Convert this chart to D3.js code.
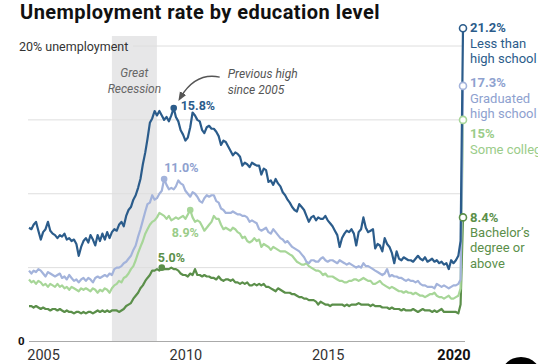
<!DOCTYPE html>
<html>
<head>
<meta charset="utf-8">
<script src="https://cdn.jsdelivr.net/npm/d3@7"></script>
<style>
  body { margin: 0; background: #fff; }
  svg { display: block; font-family: Roboto, 'Noto Sans', sans-serif; }
</style>
</head>
<body>
<svg id="chart" width="538" height="364"></svg>
<script>
'use strict';
// monthly data, Jan 2005 .. Apr 2020
const START = new Date(2005, 0, 1);
const YEAR_LABELS = ['2005', '2010', '2015', '2020'];
const Y_TICKS = [0, 5, 10, 15, 20];
const RECESSION = [new Date(2007, 11, 1), new Date(2009, 5, 30)];

const lessThanHS = [
  7.7, 7.6, 7.9, 8.1, 7.5, 6.9, 7.4, 7.6, 8.1, 7.5, 7.3, 7.2,
  7.0, 7.2, 7.1, 7.3, 6.9, 7.0, 6.8, 6.9, 6.6, 5.8, 6.4, 6.8,
  7.0, 6.7, 7.2, 6.9, 6.5, 7.2, 6.8, 7.3, 6.9, 7.4, 7.0, 7.4,
  7.6, 7.5, 7.9, 8.1, 7.8, 8.5, 8.9, 9.1, 9.6, 9.9, 10.4, 11.0,
  12.0, 12.8, 13.7, 14.8, 15.1, 15.6, 15.3, 15.6, 15.3, 15.0, 15.2, 14.9,
  15.3, 15.8, 15.2, 14.9, 14.3, 14.0, 13.6, 13.8, 14.5, 15.5, 15.3, 15.0,
  14.9, 14.3, 14.1, 14.5, 14.6, 14.4, 14.4, 14.2, 13.9, 13.3, 13.6, 13.5,
  13.2, 12.9, 12.6, 12.8, 12.7, 12.5, 11.9, 12.1, 12.0, 11.8, 12.1, 12.0,
  11.9, 11.9, 11.3, 11.7, 11.6, 10.8, 10.9, 10.6, 11.0, 10.7, 10.5, 10.1,
  9.9, 9.6, 9.4, 9.1, 8.9, 8.8, 9.3, 9.1, 8.9, 8.5, 8.1, 8.4,
  8.5, 8.2, 8.4, 8.3, 8.3, 8.5, 8.2, 8.0, 7.8, 7.5, 7.2, 6.4,
  7.0, 7.3, 7.5, 7.4, 7.6, 7.3, 6.5, 7.4, 7.6, 8.4, 7.7, 7.4,
  7.5, 7.6, 6.3, 6.6, 6.5, 6.1, 7.0, 6.6, 6.4, 6.0, 5.3, 6.1,
  5.6, 5.5, 5.7, 5.6, 5.5, 5.5, 5.4, 5.6, 5.8, 5.6, 5.5, 5.7,
  5.4, 5.5, 5.6, 5.4, 5.5, 5.3, 5.4, 5.2, 5.3, 4.9, 5.5, 5.3,
  5.5, 5.8, 6.8, 21.2
];
const highSchool = [
  4.8, 4.6, 4.8, 4.7, 4.9, 4.8, 4.6, 4.4, 4.7, 4.6, 4.5, 4.4,
  4.5, 4.6, 4.3, 4.4, 4.2, 4.5, 4.3, 4.1, 4.2, 4.0, 4.2, 4.3,
  4.1, 4.3, 4.2, 4.0, 4.3, 4.4, 4.3, 4.4, 4.5, 4.4, 4.6, 4.5,
  4.9, 5.0, 5.0, 5.1, 5.3, 5.4, 5.6, 5.8, 6.2, 6.5, 7.1, 7.6,
  8.2, 8.8, 9.3, 9.4, 9.9, 9.6, 9.7, 10.0, 10.2, 11.0, 10.6, 10.3,
  10.4, 10.3, 10.5, 10.9, 10.7, 10.6, 10.2, 10.0, 9.8, 10.1, 10.0, 9.8,
  9.5, 9.4, 9.7, 9.9, 9.8, 9.9, 9.9, 9.5, 9.4, 9.0, 8.9, 8.7,
  8.7, 8.7, 8.8, 8.7, 8.6, 8.6, 8.5, 8.5, 8.4, 8.1, 8.2, 8.1,
  8.0, 7.6, 7.5, 7.6, 7.7, 7.4, 7.3, 7.6, 7.4, 7.2, 7.0, 6.9,
  6.7, 6.8, 6.6, 6.4, 6.3, 6.2, 6.1, 5.9, 5.7, 5.4, 5.3, 5.5,
  5.5, 5.4, 5.4, 5.6, 5.7, 5.5, 5.4, 5.5, 5.5, 5.4, 5.3, 5.5,
  5.4, 5.3, 5.2, 5.3, 5.2, 5.1, 5.0, 5.1, 5.0, 5.3, 5.1, 5.1,
  5.0, 4.9, 4.8, 4.7, 4.6, 4.5, 4.6, 4.9, 4.4, 4.5, 4.4, 4.4,
  4.3, 4.3, 4.2, 4.1, 4.2, 4.1, 4.1, 4.0, 4.1, 3.9, 3.8, 3.8,
  3.7, 3.7, 3.7, 3.6, 3.9, 3.8, 3.7, 3.8, 3.7, 3.6, 3.7, 3.8,
  3.8, 3.9, 4.2, 17.3
];
const someCollege = [
  4.2, 4.0, 4.1, 3.9, 4.1, 4.0, 3.8, 3.9, 3.7, 3.9, 3.8, 3.7,
  3.9, 3.7, 3.8, 3.6, 3.7, 3.5, 3.7, 3.6, 3.5, 3.4, 3.6, 3.5,
  3.6, 3.5, 3.4, 3.6, 3.5, 3.3, 3.5, 3.4, 3.6, 3.5, 3.3, 3.6,
  3.8, 3.9, 4.1, 4.0, 4.3, 4.4, 4.6, 4.9, 5.1, 5.5, 6.0, 6.4,
  6.8, 7.3, 7.6, 7.9, 8.1, 8.2, 8.4, 8.7, 8.6, 8.5, 8.3, 8.5,
  8.2, 8.3, 8.4, 8.3, 8.4, 8.5, 8.3, 8.6, 8.9, 8.4, 8.1, 8.2,
  8.1, 7.8, 7.5, 7.7, 7.9, 8.1, 8.5, 8.3, 8.3, 7.9, 7.6, 7.7,
  7.6, 7.5, 7.7, 7.6, 7.4, 7.3, 7.0, 7.1, 6.8, 6.7, 6.8, 7.0,
  6.8, 6.9, 6.4, 6.6, 6.5, 6.4, 6.2, 6.4, 6.3, 6.2, 6.1, 6.1,
  6.1, 6.0, 5.9, 5.8, 5.6, 5.4, 5.3, 5.2, 5.2, 5.3, 5.1, 5.0,
  4.9, 4.8, 4.8, 4.7, 4.5, 4.6, 4.4, 4.4, 4.4, 4.3, 4.2, 4.1,
  4.1, 4.0, 4.0, 4.1, 4.1, 4.2, 4.2, 4.1, 4.2, 4.3, 4.2, 4.1,
  4.1, 3.9, 3.9, 4.0, 4.1, 3.9, 3.8, 3.7, 3.6, 3.7, 3.6, 3.5,
  3.4, 3.4, 3.3, 3.4, 3.3, 3.3, 3.2, 3.3, 3.2, 3.1, 3.1, 3.0,
  3.1, 3.2, 3.2, 3.3, 3.1, 3.0, 3.0, 2.9, 3.0, 3.1, 2.9, 2.9,
  3.0, 3.1, 3.6, 15.0
];
const bachelors = [
  2.4, 2.4, 2.3, 2.4, 2.3, 2.2, 2.3, 2.2, 2.2, 2.1, 2.2, 2.2,
  2.1, 2.2, 2.1, 2.0, 2.1, 2.0, 2.0, 1.9, 2.0, 2.0, 1.9, 2.0,
  1.9, 2.0, 2.0, 1.9, 2.0, 2.1, 2.0, 2.1, 2.0, 2.1, 2.0, 2.1,
  2.1, 2.1, 2.0, 2.1, 2.2, 2.4, 2.5, 2.6, 2.9, 3.1, 3.3, 3.6,
  3.8, 4.1, 4.3, 4.5, 4.8, 4.8, 4.9, 4.8, 5.0, 4.9, 4.9, 4.9,
  5.0, 4.9, 4.9, 4.8, 4.6, 4.5, 4.5, 4.4, 4.6, 4.5, 4.9, 4.5,
  4.5, 4.4, 4.5, 4.4, 4.4, 4.3, 4.3, 4.2, 4.4, 4.2, 4.1, 4.2,
  4.2, 4.1, 4.2, 4.0, 4.0, 3.9, 4.0, 3.9, 4.0, 3.8, 3.8, 3.9,
  3.8, 3.9, 3.8, 3.9, 3.7, 3.7, 3.6, 3.5, 3.4, 3.6, 3.5, 3.4,
  3.3, 3.3, 3.3, 3.2, 3.2, 3.1, 3.0, 3.0, 2.9, 2.9, 2.8, 2.8,
  2.8, 2.7, 2.5, 2.7, 2.6, 2.5, 2.5, 2.4, 2.5, 2.5, 2.5, 2.5,
  2.5, 2.4, 2.5, 2.4, 2.5, 2.5, 2.5, 2.6, 2.5, 2.5, 2.5, 2.5,
  2.4, 2.5, 2.4, 2.4, 2.4, 2.3, 2.3, 2.3, 2.2, 2.3, 2.2, 2.2,
  2.2, 2.1, 2.2, 2.1, 2.1, 2.1, 2.2, 2.1, 2.0, 2.1, 2.2, 2.1,
  2.1, 2.1, 2.0, 2.1, 2.0, 2.1, 2.2, 2.0, 2.0, 2.0, 2.0, 2.0,
  2.0, 1.9, 2.5, 8.4
];

const SERIES_NAMES = [
  ['Less than', 'high school'],
  ['Graduated', 'high school'],
  ['Some college'],
  ['Bachelor’s', 'degree or', 'above'],
];

// styling (not data)
const STYLES = [
  { line: '#2b5c8b', text: '#2b5c8b', labelDy: 4, peak: { dx: 7, dy: 1.5, anchor: 'start' } },
  { line: '#a3b3db', text: '#8ea1cf', labelDy: 1.5, peak: { dx: 0, dy: -7, anchor: 'start' } },
  { line: '#a7d698', text: '#9acc89', labelDy: 18.5, peak: { dx: -5, dy: 26.5, anchor: 'middle' } },
  { line: '#5b8f4a', text: '#5b8f4a', labelDy: 4.5, peak: { dx: -4, dy: -5.5, anchor: 'start' } },
];

const seriesValues = [lessThanHS, highSchool, someCollege, bachelors];
const months = d3.range(lessThanHS.length).map((i) => d3.timeMonth.offset(START, i));

const svg = d3.select('#chart');
const x = d3.scaleTime().domain([months[0], months[months.length - 1]]).range([29, 463]);
const y = d3.scaleLinear().domain([0, 20]).range([341.5, 46]);

// title
svg.append('text')
  .attr('x', 20).attr('y', 18.5)
  .attr('font-size', 20).attr('font-weight', 700).attr('fill', '#111')
  .attr('letter-spacing', 0.45)
  .text('Unemployment rate by education level');

// recession band
svg.append('rect')
  .attr('x', x(RECESSION[0])).attr('width', x(RECESSION[1]) - x(RECESSION[0]))
  .attr('y', 36).attr('height', y(0) - 36)
  .attr('fill', '#e7e7e8');

const bandMid = (x(RECESSION[0]) + x(RECESSION[1])) / 2;
svg.append('g').selectAll('text')
  .data(['Great', 'Recession'])
  .join('text')
  .attr('x', bandMid).attr('y', (d, i) => 77 + i * 15.5)
  .attr('text-anchor', 'middle').attr('font-size', 12).attr('font-style', 'italic')
  .attr('fill', '#666').text((d) => d);

// gridlines
svg.append('g').selectAll('line')
  .data(Y_TICKS.filter((t) => t > 0))
  .join('line')
  .attr('x1', (d) => (d === 20 ? 133 : 28)).attr('x2', 463)
  .attr('y1', (d) => y(d)).attr('y2', (d) => y(d))
  .attr('stroke', '#dedede').attr('stroke-width', 1);

svg.append('line')
  .attr('x1', 29).attr('x2', 465).attr('y1', y(0)).attr('y2', y(0))
  .attr('stroke', '#aaa').attr('stroke-width', 1);

svg.append('text')
  .attr('x', 19).attr('y', y(20) + 4.5)
  .attr('font-size', 12.5).attr('fill', '#333')
  .text(Y_TICKS[4] + '% unemployment');
svg.append('text')
  .attr('x', 18).attr('y', y(0) + 3.5)
  .attr('font-size', 11.5).attr('font-weight', 700).attr('fill', '#111')
  .text(Y_TICKS[0]);

// x axis
const xAxis = svg.append('g')
  .attr('transform', `translate(0,${y(0)})`)
  .call(d3.axisBottom(x)
    .tickValues(YEAR_LABELS.map((d) => new Date(+d, 6, 1)))
    .tickSize(0).tickPadding(6)
    .tickFormat((d, i) => YEAR_LABELS[i]));
xAxis.select('.domain').remove();
xAxis.selectAll('.tick text')
  .attr('font-family', 'Roboto, sans-serif').attr('font-size', 14.5).attr('fill', '#333')
  .attr('dy', '0.85em');
xAxis.selectAll('.tick:last-of-type text')
  .attr('font-weight', 700).attr('fill', '#111').attr('text-anchor', 'end');

// lines (top series drawn last)
const line = d3.line().x((d, i) => x(months[i])).y((d) => y(d));
const order = [3, 2, 1, 0];
svg.append('g').selectAll('path')
  .data(order)
  .join('path')
  .attr('d', (k) => line(seriesValues[k]))
  .attr('fill', 'none')
  .attr('stroke', (k) => STYLES[k].line)
  .attr('stroke-width', 2.2)
  .attr('stroke-linejoin', 'round');

// peak dots and labels
const fmtPeak = d3.format('.1f');
order.forEach((k) => {
  const vals = seriesValues[k].slice(0, 180);
  const i = d3.maxIndex(vals);
  const px = x(months[i]), py = y(vals[i]);
  const st = STYLES[k];
  svg.append('circle').attr('cx', px).attr('cy', py).attr('r', 3.3).attr('fill', st.line);
  svg.append('text')
    .attr('x', px + st.peak.dx).attr('y', py + st.peak.dy)
    .attr('text-anchor', st.peak.anchor)
    .attr('font-size', 12.5).attr('font-weight', 700).attr('fill', st.text)
    .text(fmtPeak(vals[i]) + '%');
  if (k === 0) {
    // arrow to previous high
    svg.append('defs').append('marker')
      .attr('id', 'arrow').attr('viewBox', '0 0 10 10').attr('refX', 5).attr('refY', 5)
      .attr('markerWidth', 7).attr('markerHeight', 7).attr('orient', 'auto-start-reverse')
      .append('path').attr('d', 'M0,1L10,5L0,9Z').attr('fill', '#555');
    svg.append('path')
      .attr('d', `M${px + 46},${py - 31} Q${px + 22},${py - 36} ${px + 7},${py - 11}`)
      .attr('fill', 'none').attr('stroke', '#555').attr('stroke-width', 1.3)
      .attr('marker-end', 'url(#arrow)');
    svg.append('g').selectAll('text')
      .data(['Previous high', 'since 2005'])
      .join('text')
      .attr('x', px + 54).attr('y', (d, j) => py - 30 + j * 15.5)
      .attr('font-size', 12).attr('font-style', 'italic').attr('fill', '#555')
      .text((d) => d);
  }
});

// end circles and labels
const fmtEnd = d3.format('.1~f');
order.forEach((k) => {
  const vals = seriesValues[k];
  const last = vals.length - 1;
  const cx = x(months[last]), cy = y(vals[last]);
  const st = STYLES[k];
  const g = svg.append('g');
  const lines = [fmtEnd(vals[last]) + '%'].concat(SERIES_NAMES[k]);
  g.selectAll('text')
    .data(lines)
    .join('text')
    .attr('x', 470).attr('y', (d, j) => cy + st.labelDy + j * 15.3)
    .attr('font-size', 13).attr('font-weight', (d, j) => (j === 0 ? 700 : 400))
    .attr('fill', st.text).text((d) => d);
});
order.forEach((k) => {
  const vals = seriesValues[k];
  const last = vals.length - 1;
  svg.append('circle')
    .attr('cx', x(months[last])).attr('cy', y(vals[last])).attr('r', 3.5)
    .attr('fill', '#fff').attr('stroke', STYLES[k].line).attr('stroke-width', 1.6);
});

// corner badge
svg.append('circle').attr('cx', 521).attr('cy', 378).attr('r', 21).attr('fill', '#000');
</script>
</body>
</html>
